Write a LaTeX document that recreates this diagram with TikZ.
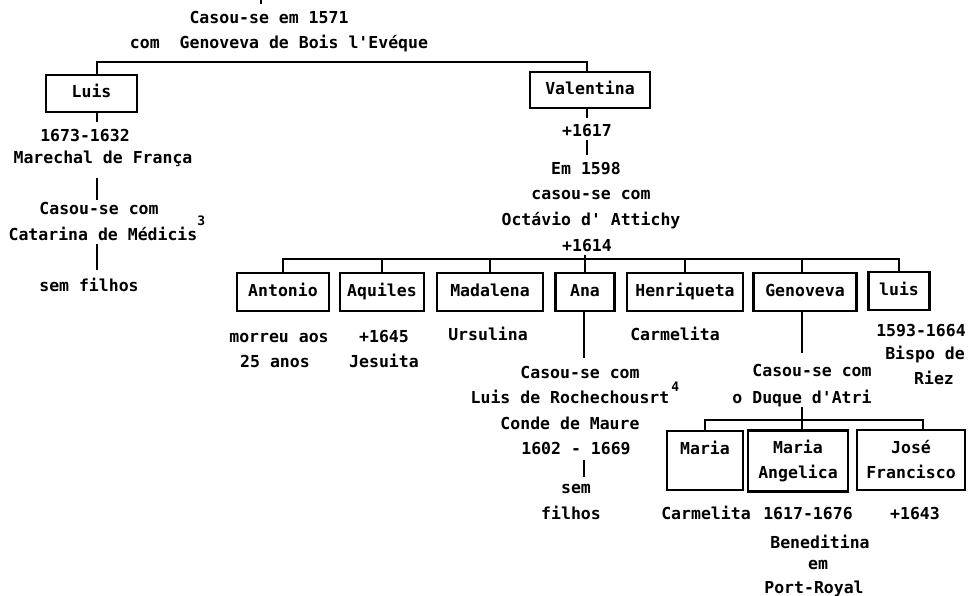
\documentclass[tikz,border=0pt]{standalone}
\usepackage{fontspec}
\setmonofont{DejaVu Sans Mono}
\newcommand{\supmark}[2]{\rlap{\hspace{#2}\raisebox{#1}{\fontsize{13}{13}\selectfont 3}}}
\newcommand{\supfour}[2]{\rlap{\hspace{#2}\raisebox{#1}{\fontsize{13}{13}\selectfont 4}}}
\begin{document}
\begin{tikzpicture}[x=1pt,y=-1pt,
  txt/.style={font=\ttfamily\bfseries\fontsize{16.5}{25}\selectfont, inner sep=0pt, outer sep=0pt, text height=12pt, text depth=4pt},
  box/.style={txt, draw, line width=2.2pt},
  boxtwo/.style={font=\ttfamily\bfseries\fontsize{16.5}{25}\selectfont, draw, line width=2.2pt, inner sep=0pt, outer sep=0pt, align=center},
  conn/.style={line width=2.2pt}]
\useasboundingbox (0,0) rectangle (968,595);
% column coordinates
\coordinate (topA) at (261,0);
\coordinate (topB) at (261,4);
\coordinate (colL) at (97,0);
\coordinate (colV) at (587,0);
\coordinate (colA) at (584,0);
\coordinate (colG) at (802,0);
\coordinate (colJ) at (923,0);
\coordinate (bar1) at (587,62);
\coordinate (bar2) at (0,259);
\coordinate (bar3) at (0,420);
% top text
\node[txt] (t1) at (269,19) {Casou-se em 1571};
\node[txt] (t2) at (279,44) {com\ \ Genoveva de Bois l'Evéque};
% Luis
\node[box, minimum width=91pt, minimum height=37pt] (luisbox) at (91.5,93.5) {Luis};
\node[txt] (ld) at (85,137) {1673-1632};
\node[txt] (lm) at (103,159) {Marechal de França};
\node[txt] (lc1) at (99,210) {Casou-se com};
\node[txt] (lc2) at (103,236) {Catarina de Médicis\supmark{15pt}{0pt}};
\node[txt] (lsf) at (89,287) {sem filhos};
% Valentina
\node[box, minimum width=120pt, minimum height=36pt] (valbox) at (590,90) {Valentina};
\node[txt] (v1617) at (587,132) {+1617};
\node[txt] (vem) at (586,170) {Em 1598};
\node[txt] (vcas) at (591,195) {casou-se com};
\node[txt] (voct) at (591,221) {Octávio d' Attichy};
\node[txt] (v1614) at (587,247) {+1614};
% children boxes
\node[box, minimum width=92pt, minimum height=38pt] (antonio) at (283,292) {Antonio};
\node[box, minimum width=84pt, minimum height=38pt] (aquiles) at (382,292) {Aquiles};
\node[box, minimum width=106pt, minimum height=38pt] (madalena) at (490,292) {Madalena};
\node[box, minimum width=59pt, minimum height=38pt] (ana) at (585,292) {Ana};
\node[box, minimum width=116pt, minimum height=38pt] (henriq) at (685,292) {Henriqueta};
\node[box, minimum width=103pt, minimum height=38pt] (genbox) at (805,292) {Genoveva};
\node[box, minimum width=61pt, minimum height=38pt] (luisc) at (899,291) {luis};
% under children
\node[txt] (am1) at (279,338) {morreu aos};
\node[txt] (am2) at (275,363) {25 anos};
\node[txt] (aq1) at (384,338) {+1645};
\node[txt] (aq2) at (384,363) {Jesuita};
\node[txt] (mu) at (488,336) {Ursulina};
\node[txt] (hc) at (675,336) {Carmelita};
\node[txt] (lu1) at (921,332) {1593-1664};
\node[txt] (lu2) at (925,355) {Bispo de};
\node[txt] (lu3) at (934,380) {Riez};
% Ana column
\node[txt] (ac1) at (580,374) {Casou-se com};
\node[txt] (ac2) at (570,399) {Luis de Rochechousrt\supfour{12pt}{2pt}};
\node[txt] (ac3) at (570,425) {Conde de Maure};
\node[txt] (ad) at (576,450) {1602 - 1669};
\node[txt] (as) at (576,489) {sem};
\node[txt] (af) at (571,515) {filhos};
% Genoveva column
\node[txt] (gc1) at (812,372) {Casou-se com};
\node[txt] (gc2) at (802,399) {o Duque d'Atri};
\node[boxtwo, minimum width=76pt, minimum height=59pt] (maria) at (705,460.5) {Maria\\\mbox{}};
\node[boxtwo, minimum width=100pt, minimum height=61pt] (mang) at (798,461) {Maria\\Angelica};
\node[boxtwo, minimum width=108pt, minimum height=60pt] (jose) at (911,460) {José\\Francisco};
\node[txt] (gm1) at (706,515) {Carmelita};
\node[txt] (gm2) at (808,515) {1617-1676};
\node[txt] (gm3) at (915,515) {+1643};
\node[txt] (gb) at (820,544) {Beneditina};
\node[txt] (ge) at (818,565) {em};
\node[txt] (gp) at (814,589) {Port-Royal};
% connectors
\draw[conn] (topA) -- (topB);
\draw[conn] (luisbox.north -| colL) |- (bar1) -- (valbox.north -| bar1);
\draw[conn, shorten >=7pt] (luisbox.south -| colL) -- (ld.north -| colL);
\draw[conn, shorten <=11pt, shorten >=2pt] (lm.south -| colL) -- (lc1.north -| colL);
\draw[conn, shorten >=9pt] (lc2.south -| colL) -- (lsf.north -| colL);
\draw[conn, shorten >=6pt] (valbox.south -| colV) -- (v1617.north -| colV);
\draw[conn, shorten >=7pt] (v1617.south -| colV) -- (vem.north -| colV);
\draw[conn] (v1614.south -| ana.north) -- (ana.north);
\draw[conn] (antonio.north) |- (luisc.north |- bar2) -- (luisc.north);
\draw[conn] (aquiles.north) -- (aquiles.north |- bar2);
\draw[conn] (madalena.north) -- (madalena.north |- bar2);
\draw[conn] (henriq.north) -- (henriq.north |- bar2);
\draw[conn] (genbox.north -| colG) -- (bar2 -| colG);
\draw[conn, shorten >=8pt] (ana.south -| colA) -- (ac1.north -| colA);
\draw[conn, shorten <=2pt, shorten >=4pt] (ad.south -| colA) -- (as.north -| colA);
\draw[conn, shorten >=11pt] (genbox.south -| colG) -- (gc1.north -| colG);
\draw[conn] (gc2.south -| colG) -- (mang.north -| colG);
\draw[conn] (maria.north) |- (bar3 -| colJ) -- (jose.north -| colJ);
\end{tikzpicture}
\end{document}
